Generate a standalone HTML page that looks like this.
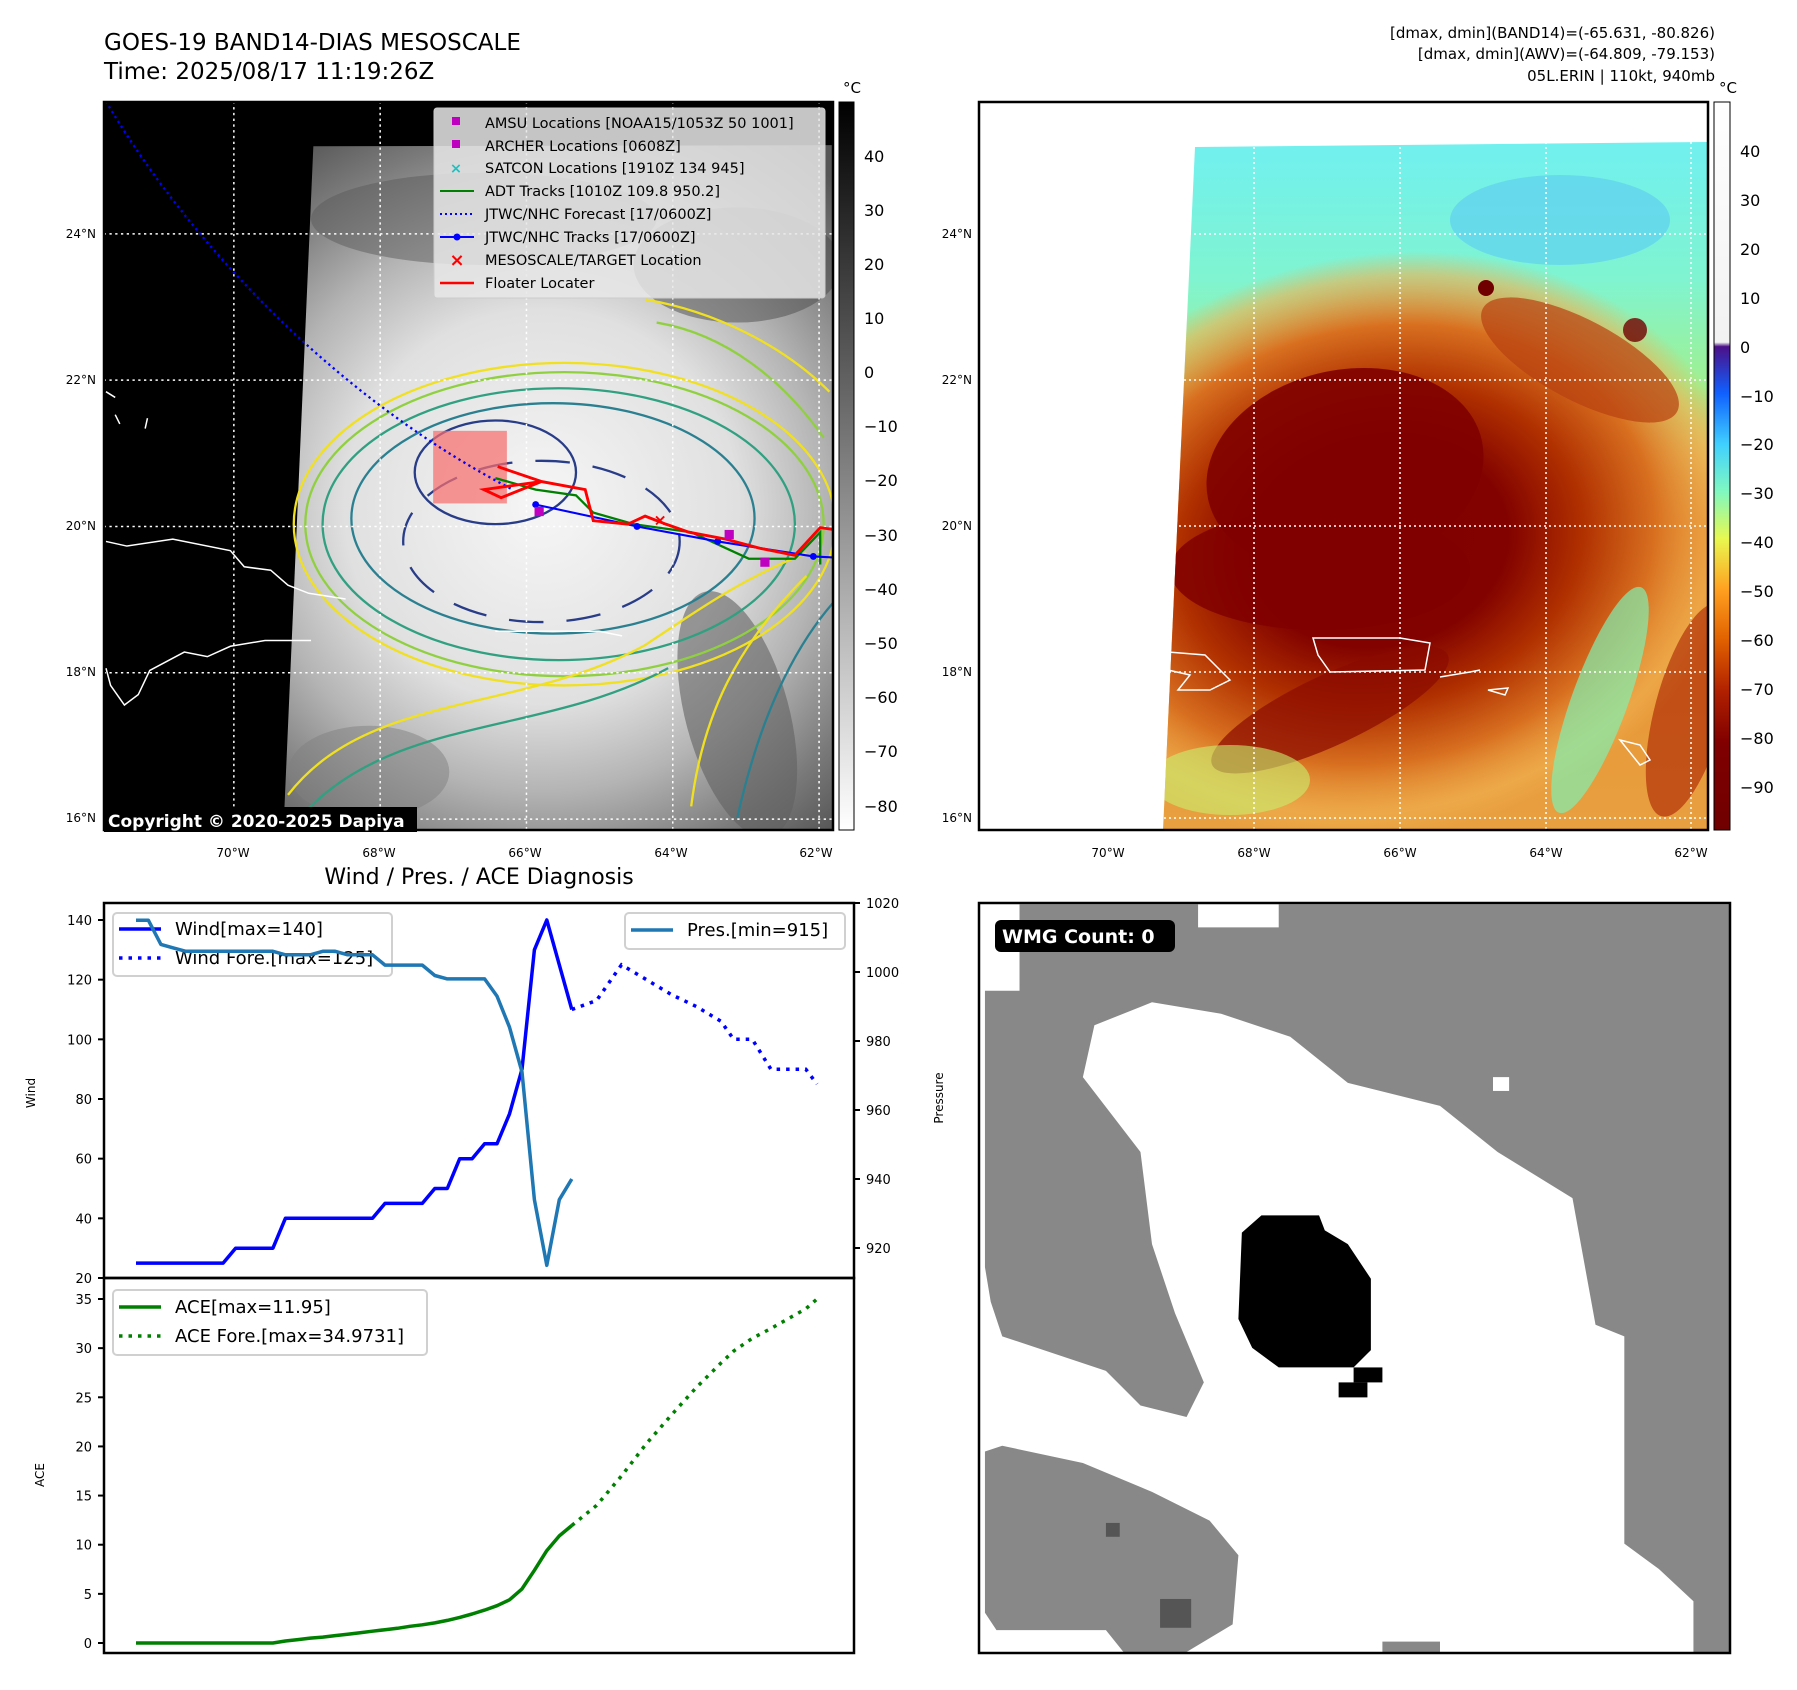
<!DOCTYPE html>
<html><head><meta charset="utf-8">
<style>
html,body{margin:0;padding:0;background:#fff;}
svg{display:block;font-family:"DejaVu Sans","Liberation Sans",sans-serif;}
</style></head>
<body>
<svg id="root" width="1797" height="1690" viewBox="0 0 1797 1690" xmlns="http://www.w3.org/2000/svg">
<defs>
  <clipPath id="clip1"><rect x="104" y="102" width="729" height="728"/></clipPath>
  <clipPath id="clipData2"><polygon points="1195,147 1708,142 1708,830 1163,830"/></clipPath>
  <clipPath id="clipW"><rect x="979" y="903" width="751" height="750"/></clipPath>
  <radialGradient id="ir1" cx="470" cy="440" r="380" gradientUnits="userSpaceOnUse">
    <stop offset="0" stop-color="#f6f6f6"/><stop offset="0.45" stop-color="#e0e0e0"/>
    <stop offset="0.65" stop-color="#b4b4b4"/><stop offset="0.85" stop-color="#7a7a7a"/><stop offset="1" stop-color="#555"/>
  </radialGradient>
  <linearGradient id="cb1" x1="0" y1="0" x2="0" y2="1">
    <stop offset="0" stop-color="#000"/><stop offset="1" stop-color="#fff"/>
  </linearGradient>
  <linearGradient id="cb2" x1="0" y1="0" x2="0" y2="1">
    <stop offset="0" stop-color="#ffffff"/><stop offset="0.33" stop-color="#f2f2f2"/>
    <stop offset="0.336" stop-color="#4b1088"/><stop offset="0.40" stop-color="#1060ff"/>
    <stop offset="0.47" stop-color="#40d0ff"/><stop offset="0.535" stop-color="#80f8c0"/>
    <stop offset="0.60" stop-color="#e8f850"/><stop offset="0.67" stop-color="#ffa020"/>
    <stop offset="0.74" stop-color="#e06000"/><stop offset="0.81" stop-color="#b02000"/>
    <stop offset="0.88" stop-color="#800000"/><stop offset="1" stop-color="#700000"/>
  </linearGradient>
  <linearGradient id="bg2" x1="0" y1="0" x2="0" y2="1">
    <stop offset="0" stop-color="#70f0f0"/><stop offset="0.2" stop-color="#80f4d0"/>
    <stop offset="0.35" stop-color="#a0f090"/><stop offset="0.45" stop-color="#e0c060"/>
    <stop offset="0.55" stop-color="#e89030"/><stop offset="1" stop-color="#e8a040"/>
  </linearGradient>
  <radialGradient id="storm2" cx="0.5" cy="0.5" r="0.5">
    <stop offset="0" stop-color="#800000"/><stop offset="0.35" stop-color="#820200"/>
    <stop offset="0.55" stop-color="#b03000"/><stop offset="0.75" stop-color="#d87020"/>
    <stop offset="0.92" stop-color="#f0b050" stop-opacity="0.6"/><stop offset="1" stop-color="#f0b050" stop-opacity="0"/>
  </radialGradient>
</defs>

<text x="104" y="50" font-size="23">GOES-19 BAND14-DIAS MESOSCALE</text>
<text x="104" y="79" font-size="23">Time: 2025/08/17 11:19:26Z</text>
<g font-size="15" text-anchor="end">
  <text x="1715" y="38">[dmax, dmin](BAND14)=(-65.631, -80.826)</text>
  <text x="1715" y="59">[dmax, dmin](AWV)=(-64.809, -79.153)</text>
  <text x="1715" y="81">05L.ERIN | 110kt, 940mb</text>
</g>

<!-- MAP 1 -->
<g>
  <rect x="104" y="102" width="729" height="728" fill="#000"/>
  <g clip-path="url(#clip1)">
    <g transform="scale(1.152)">
      <polygon points="272,127 726,126 726,722 246,722" fill="url(#ir1)"/>
      <ellipse cx="420" cy="190" rx="150" ry="40" fill="#5a5a5a" opacity="0.5"/>
      <ellipse cx="640" cy="230" rx="90" ry="50" fill="#4a4a4a" opacity="0.5"/>
      <ellipse cx="640" cy="620" rx="45" ry="110" fill="#606060" opacity="0.6" transform="rotate(-15 640 620)"/>
      <ellipse cx="320" cy="670" rx="70" ry="40" fill="#808080" opacity="0.5"/>
      <g fill="none" stroke-width="2">
        <ellipse cx="490" cy="455" rx="235" ry="140" stroke="#f0e020"/>
        <ellipse cx="490" cy="455" rx="225" ry="132" stroke="#90d040"/>
        <ellipse cx="485" cy="455" rx="205" ry="118" stroke="#30a080"/>
        <ellipse cx="480" cy="450" rx="175" ry="100" stroke="#2a8090"/>
        <ellipse cx="430" cy="410" rx="70" ry="45" stroke="#283c88"/>
        <ellipse cx="470" cy="470" rx="120" ry="70" stroke="#283c88" stroke-dasharray="30,20"/>
        <path d="M250,690 C320,600 450,620 560,560 C620,520 650,500 700,480" stroke="#f0e020"/>
        <path d="M260,710 C340,620 470,640 580,580" stroke="#30a080"/>
        <path d="M600,700 C610,620 640,560 700,500" stroke="#f0e020"/>
        <path d="M640,710 C660,620 690,560 726,520" stroke="#2a8090"/>
        <path d="M560,260 C620,270 680,300 720,340" stroke="#f0e020"/>
        <path d="M570,280 C630,290 680,330 715,380" stroke="#90d040"/>
      </g>
      <g fill="none" stroke="#fff" stroke-width="1.3">
        <path d="M92,470 L110,474 L150,468 L200,478 L212,492 L235,495 L250,508 L268,515 L300,520"/>
        <path d="M92,580 L96,595 L108,612 L120,603 L130,582 L160,566 L180,570 L200,561 L230,556 L270,556"/>
        <path d="M92,340 L100,345 M100,360 L104,368 M128,363 L126,372"/>
        <path d="M430,548 L520,548 L540,552"/>
      </g>
      <g stroke="#fff" stroke-width="1.3" stroke-dasharray="2,3">
        <line x1="203" y1="88" x2="203" y2="722"/><line x1="330" y1="88" x2="330" y2="722"/>
        <line x1="457" y1="88" x2="457" y2="722"/><line x1="584" y1="88" x2="584" y2="722"/>
        <line x1="711" y1="88" x2="711" y2="722"/>
        <line x1="90" y1="203" x2="726" y2="203"/><line x1="90" y1="330" x2="726" y2="330"/>
        <line x1="90" y1="457" x2="726" y2="457"/><line x1="90" y1="584" x2="726" y2="584"/>
        <line x1="90" y1="711" x2="726" y2="711"/>
      </g>
      <rect x="376" y="374" width="64" height="63" fill="rgba(246,110,110,0.72)"/>
      <path d="M92,88 C170,220 300,350 445,425" fill="none" stroke="#0000ff" stroke-width="2" stroke-dasharray="2,3"/>
      <path d="M430,415 L465,425 L500,430 L515,445 L550,455 L600,462 L650,485 L690,485 L712,462 L712,490" fill="none" stroke="#008000" stroke-width="2"/>
      <path d="M465,438 L553,457 L623,470 L706,483 L726,484" fill="none" stroke="#0000ff" stroke-width="1.8"/>
      <g fill="#0000ff"><circle cx="465" cy="438" r="3"/><circle cx="553" cy="457" r="3"/><circle cx="623" cy="470" r="3"/><circle cx="706" cy="483" r="3"/></g>
      <path d="M432,405 L470,418 L420,425 L435,432 L470,418 L508,425 L515,452 L545,455 L560,448 L578,455 L598,462 L630,468 L660,476 L690,482 L712,458 L726,460" fill="none" stroke="#ff0000" stroke-width="2.5"/>
      <g fill="#c000c0"><rect x="464" y="440" width="8" height="8"/><rect x="629" y="460" width="8" height="8"/><rect x="660" y="484" width="8" height="8"/></g>
      <text x="573" y="456" font-size="14" fill="#f00" text-anchor="middle" font-weight="bold">×</text>
    </g>
  </g>
  <rect x="104" y="102" width="729" height="728" fill="none" stroke="#000" stroke-width="2.5"/>
  <g>
    <rect x="434" y="108" width="391" height="190" rx="3" fill="#e8e8e8" fill-opacity="0.85" stroke="#ccc"/>
    <g font-size="14.5">
      <rect x="452" y="117" width="8" height="8" fill="#c000c0"/><text x="485" y="128">AMSU Locations [NOAA15/1053Z 50 1001]</text>
      <rect x="452" y="140" width="8" height="8" fill="#c000c0"/><text x="485" y="151">ARCHER Locations [0608Z]</text>
      <text x="456" y="173" fill="#20c0c0" text-anchor="middle" font-weight="bold">×</text><text x="485" y="173">SATCON Locations [1910Z 134 945]</text>
      <line x1="440" y1="191" x2="474" y2="191" stroke="#008000" stroke-width="2"/><text x="485" y="196">ADT Tracks [1010Z 109.8 950.2]</text>
      <line x1="440" y1="214" x2="474" y2="214" stroke="#0000ff" stroke-width="2" stroke-dasharray="2,3"/><text x="485" y="219">JTWC/NHC Forecast [17/0600Z]</text>
      <line x1="440" y1="237" x2="474" y2="237" stroke="#0000ff" stroke-width="2"/><circle cx="457" cy="237" r="3.5" fill="#0000ff"/><text x="485" y="242">JTWC/NHC Tracks [17/0600Z]</text>
      <text x="457" y="266" fill="#f00" text-anchor="middle" font-weight="bold" font-size="18">×</text><text x="485" y="265">MESOSCALE/TARGET Location</text>
      <line x1="440" y1="283" x2="474" y2="283" stroke="#ff0000" stroke-width="2.5"/><text x="485" y="288">Floater Locater</text>
    </g>
  </g>
  <rect x="104" y="807" width="313" height="25" fill="#000"/>
  <text x="108" y="827" font-size="17" font-weight="bold" fill="#fff">Copyright © 2020-2025 Dapiya</text>
  <g font-size="12" text-anchor="end">
    <text x="96" y="238">24°N</text><text x="96" y="384">22°N</text><text x="96" y="530">20°N</text><text x="96" y="676">18°N</text><text x="96" y="822">16°N</text>
  </g>
  <g font-size="12" text-anchor="middle">
    <text x="233" y="857">70°W</text><text x="379" y="857">68°W</text><text x="525" y="857">66°W</text><text x="671" y="857">64°W</text><text x="816" y="857">62°W</text>
  </g>
  <rect x="839" y="102" width="15" height="728" fill="url(#cb1)" stroke="#000" stroke-width="1"/>
  <text x="852" y="93" font-size="15" text-anchor="middle">°C</text>
  <g font-size="16">
    <text x="864" y="162">40</text><text x="864" y="216">30</text><text x="864" y="270">20</text><text x="864" y="324">10</text>
    <text x="864" y="378">0</text><text x="864" y="432">−10</text><text x="864" y="486">−20</text><text x="864" y="541">−30</text>
    <text x="864" y="595">−40</text><text x="864" y="649">−50</text><text x="864" y="703">−60</text><text x="864" y="757">−70</text><text x="864" y="812">−80</text>
  </g>
</g>

<!-- MAP 2 -->
<g>
  <rect x="979" y="102" width="729" height="728" fill="#fff"/>
  <g clip-path="url(#clipData2)">
    <rect x="1150" y="140" width="560" height="700" fill="url(#bg2)"/>
    <ellipse cx="1560" cy="220" rx="110" ry="45" fill="#60d0f0" opacity="0.7"/>
    <ellipse cx="1380" cy="545" rx="370" ry="290" fill="url(#storm2)" transform="rotate(-12 1380 545)"/>
    <ellipse cx="1580" cy="360" rx="110" ry="40" fill="#b84010" opacity="0.7" transform="rotate(28 1580 360)"/>
    <ellipse cx="1345" cy="470" rx="140" ry="100" fill="#800000" opacity="0.9" transform="rotate(-12 1345 470)"/>
    <ellipse cx="1320" cy="570" rx="150" ry="60" fill="#800000" opacity="0.85"/>
    <ellipse cx="1330" cy="710" rx="130" ry="35" fill="#8a0a00" opacity="0.7" transform="rotate(-25 1330 710)"/>
    <ellipse cx="1600" cy="700" rx="28" ry="120" fill="#80f0b0" opacity="0.7" transform="rotate(20 1600 700)"/>
    <ellipse cx="1230" cy="780" rx="80" ry="35" fill="#c8f070" opacity="0.6"/>
    <ellipse cx="1690" cy="710" rx="35" ry="110" fill="#a82000" opacity="0.6" transform="rotate(15 1690 710)"/>
    <circle cx="1486" cy="288" r="8" fill="#700000"/><circle cx="1635" cy="330" r="12" fill="#700000" opacity="0.8"/>
  </g>
  <g fill="none" stroke="#fff" stroke-width="1.5">
    <path d="M1313,638 L1400,638 L1430,643 L1425,670 L1330,672 L1318,655 Z"/>
    <path d="M1168,652 L1205,655 L1230,680 L1210,690 L1178,690 L1190,675 L1168,670"/>
    <path d="M1440,677 L1470,672 L1480,670"/><path d="M1488,690 L1505,695 L1508,688 Z"/>
    <path d="M1620,740 L1640,745 L1650,760 L1640,765 Z"/>
  </g>
  <g stroke="#fff" stroke-width="1.5" stroke-dasharray="2,3">
    <line x1="1108" y1="102" x2="1108" y2="830"/><line x1="1254" y1="102" x2="1254" y2="830"/>
    <line x1="1400" y1="102" x2="1400" y2="830"/><line x1="1546" y1="102" x2="1546" y2="830"/>
    <line x1="1691" y1="102" x2="1691" y2="830"/>
    <line x1="979" y1="234" x2="1708" y2="234"/><line x1="979" y1="380" x2="1708" y2="380"/>
    <line x1="979" y1="526" x2="1708" y2="526"/><line x1="979" y1="672" x2="1708" y2="672"/>
    <line x1="979" y1="818" x2="1708" y2="818"/>
  </g>
  <rect x="979" y="102" width="729" height="728" fill="none" stroke="#000" stroke-width="2.5"/>
  <g font-size="12" text-anchor="end">
    <text x="972" y="238">24°N</text><text x="972" y="384">22°N</text><text x="972" y="530">20°N</text><text x="972" y="676">18°N</text><text x="972" y="822">16°N</text>
  </g>
  <g font-size="12" text-anchor="middle">
    <text x="1108" y="857">70°W</text><text x="1254" y="857">68°W</text><text x="1400" y="857">66°W</text><text x="1546" y="857">64°W</text><text x="1691" y="857">62°W</text>
  </g>
  <rect x="1714" y="102" width="16" height="728" fill="url(#cb2)" stroke="#000" stroke-width="1"/>
  <text x="1728" y="93" font-size="15" text-anchor="middle">°C</text>
  <g font-size="16">
    <text x="1740" y="157">40</text><text x="1740" y="206">30</text><text x="1740" y="255">20</text><text x="1740" y="304">10</text>
    <text x="1740" y="353">0</text><text x="1740" y="402">−10</text><text x="1740" y="450">−20</text><text x="1740" y="499">−30</text>
    <text x="1740" y="548">−40</text><text x="1740" y="597">−50</text><text x="1740" y="646">−60</text><text x="1740" y="695">−70</text>
    <text x="1740" y="744">−80</text><text x="1740" y="793">−90</text>
  </g>
</g>

<!-- WMG panel -->
<g>
  <rect x="979" y="903" width="751" height="750" fill="#fff"/>
  <g clip-path="url(#clipW)">
    <g transform="scale(1.152)" fill="#888">
      <polygon points="885,785 1040,785 1040,805 1110,805 1110,785 1515,785 1515,1445 1470,1445 1470,1390 1440,1362 1410,1340 1410,1160 1385,1150 1365,1040 1300,1000 1250,960 1170,940 1120,900 1060,880 1000,870 950,890 940,935 990,1000 1000,1080 1020,1140 1045,1200 1030,1230 990,1220 960,1190 870,1160 860,1130 855,1100 855,860 885,860"/>
      <polygon points="855,1260 870,1255 940,1270 1000,1295 1050,1320 1075,1350 1070,1410 1020,1440 980,1440 960,1415 865,1415 855,1400"/>
      <rect x="1200" y="1425" width="50" height="20"/>
      <rect x="1296" y="935" width="14" height="12" fill="#fff"/>
      <rect x="960" y="1322" width="12" height="12" fill="#555"/>
      <rect x="1007" y="1388" width="27" height="25" fill="#555"/>
      <polygon fill="#000" points="1095,1055 1145,1055 1150,1068 1170,1080 1190,1110 1190,1172 1175,1187 1110,1187 1087,1170 1075,1145 1078,1070"/>
      <rect x="1175" y="1187" width="25" height="13" fill="#000"/>
      <rect x="1162" y="1200" width="25" height="13" fill="#000"/>
    </g>
  </g>
  <rect x="979" y="903" width="751" height="750" fill="none" stroke="#000" stroke-width="2.5"/>
  <rect x="995" y="920" width="180" height="32" rx="6" fill="#000"/>
  <text x="1002" y="943" font-size="19" font-weight="bold" fill="#fff">WMG Count: 0</text>
</g>

<text x="479" y="884" font-size="22" text-anchor="middle">Wind / Pres. / ACE Diagnosis</text>
<g id="chart"></g>
</svg>

<script>
const windVals = [25,25,25,25,25,25,25,25,30,30,30,30,40,40,40,40,40,40,40,40,45,45,45,45,50,50,60,60,65,65,75,90,130,140,125,110];
const presVals = [1015,1015,1008,1007,1006,1006,1006,1006,1006,1006,1006,1006,1005,1005,1005,1006,1006,1005,1005,1005,1002,1002,1002,1002,999,998,998,998,998,993,984,971,934,915,934,940];
const aceVals = [0,0,0,0,0,0,0,0,0,0,0,0,0.2,0.35,0.5,0.6,0.75,0.9,1.05,1.2,1.35,1.5,1.7,1.85,2.05,2.3,2.6,2.95,3.35,3.8,4.4,5.5,7.4,9.4,10.9,11.95];
const foreIdx = [35,37,39,41,43,45,47,48,49.5,51,53.8,54.7];
const windFore = [110,113,125,120,115,111,106,100,100,90,90,85];
const aceFore = [11.95,14,17,20.3,23.2,26,28.5,29.7,31,32,34,35];
const windTicks = [20,40,60,80,100,120,140];
const presTicks = [920,940,960,980,1000,1020];
const aceTicks = [0,5,10,15,20,25,30,35];

const NS = 'http://www.w3.org/2000/svg';
const chart = document.getElementById('chart');
const X0 = 104, X1 = 854, YT = 903, YM = 1278, YB = 1653;
function xC(i){ return 136 + i * 12.45; }
function yW(v){ return YM - (v - 20) * (YM - 920) / 120; }
function yP(p){ return YT + (1020 - p) * 3.45; }
function yA(a){ return 1643 - a * (1643 - 1299) / 35; }
function mk(tag, attrs, parent){
  const e = document.createElementNS(NS, tag);
  for (const k in attrs) e.setAttribute(k, attrs[k]);
  (parent || chart).appendChild(e);
  return e;
}
function pts(xs, ys){ return xs.map((x,i)=>x.toFixed(1)+','+ys[i].toFixed(1)).join(' '); }

let f1 = mk('rect',{x:X0,y:YT,width:X1-X0,height:YM-YT,fill:'none',stroke:'#000','stroke-width':2.5});


let f2 = mk('rect',{x:X0,y:YM,width:X1-X0,height:YB-YM,fill:'none',stroke:'#000','stroke-width':2.5});



windTicks.forEach(v=>{
  const y = yW(v);
  const t = mk('line',{x1:X0-6,x2:X0,y1:y,y2:y,stroke:'#000','stroke-width':2});
  
  
  const l = mk('text',{x:X0-12,y:y+5,'font-size':13,'text-anchor':'end'});
  l.textContent = v;
  
  
});
presTicks.forEach(v=>{
  const y = yP(v);
  const t = mk('line',{x1:X1,x2:X1+6,y1:y,y2:y,stroke:'#000','stroke-width':2});
  
  
  const l = mk('text',{x:X1+12,y:y+5,'font-size':13});
  l.textContent = v;
  
  
});
aceTicks.forEach(v=>{
  const y = yA(v);
  const t = mk('line',{x1:X0-6,x2:X0,y1:y,y2:y,stroke:'#000','stroke-width':2});
  
  
  const l = mk('text',{x:X0-12,y:y+5,'font-size':13,'text-anchor':'end'});
  l.textContent = v;
  
  
});
let t1 = mk('text',{x:0,y:0,'font-size':12,'text-anchor':'middle',transform:'translate(35,1093) rotate(-90)'});
t1.textContent='Wind';


let t2 = mk('text',{x:0,y:0,'font-size':12,'text-anchor':'middle',transform:'translate(943,1098) rotate(-90)'});
t2.textContent='Pressure';


let t3 = mk('text',{x:0,y:0,'font-size':12,'text-anchor':'middle',transform:'translate(44,1475) rotate(-90)'});
t3.textContent='ACE';



const idx = windVals.map((_,i)=>i);
let wl = mk('polyline',{points:pts(idx.map(xC), windVals.map(yW)),fill:'none',stroke:'#0000ff','stroke-width':3.5,'stroke-linejoin':'round'});


let wf = mk('polyline',{points:pts(foreIdx.map(xC), windFore.map(yW)),fill:'none',stroke:'#0000ff','stroke-width':3.5,'stroke-dasharray':'3.5,6'});



let lg1 = mk('rect',{x:113,y:913,width:279,height:63,rx:4,fill:'#fff','fill-opacity':0.8,stroke:'#d0d0d0','stroke-width':2});


mk('line',{x1:119,x2:161,y1:929,y2:929,stroke:'#0000ff','stroke-width':3.5});
mk('line',{x1:119,x2:161,y1:958,y2:958,stroke:'#0000ff','stroke-width':3.5,'stroke-dasharray':'3.5,6'});
let lt1 = mk('text',{x:175,y:935,'font-size':18}); lt1.textContent='Wind[max=140]';
let lt2 = mk('text',{x:175,y:964,'font-size':18}); lt2.textContent='Wind Fore.[max=125]';

let pl = mk('polyline',{points:pts(idx.map(xC), presVals.map(yP)),fill:'none',stroke:'#1f77b4','stroke-width':3.5,'stroke-linejoin':'round'});


let lg2 = mk('rect',{x:625,y:913,width:220,height:36,rx:4,fill:'#fff','fill-opacity':0.8,stroke:'#d0d0d0','stroke-width':2});


mk('line',{x1:631,x2:673,y1:930,y2:930,stroke:'#1f77b4','stroke-width':3.5});
let lt3 = mk('text',{x:687,y:936,'font-size':18}); lt3.textContent='Pres.[min=915]';

let al = mk('polyline',{points:pts(idx.map(xC), aceVals.map(yA)),fill:'none',stroke:'#008000','stroke-width':3.5,'stroke-linejoin':'round'});


let af = mk('polyline',{points:pts(foreIdx.map(xC), aceFore.map(yA)),fill:'none',stroke:'#008000','stroke-width':3.5,'stroke-dasharray':'3.5,6'});


let lg3 = mk('rect',{x:113,y:1290,width:314,height:65,rx:4,fill:'#fff','fill-opacity':0.8,stroke:'#d0d0d0','stroke-width':2});


mk('line',{x1:119,x2:161,y1:1307,y2:1307,stroke:'#008000','stroke-width':3.5});
mk('line',{x1:119,x2:161,y1:1336,y2:1336,stroke:'#008000','stroke-width':3.5,'stroke-dasharray':'3.5,6'});
let lt4 = mk('text',{x:175,y:1313,'font-size':18}); lt4.textContent='ACE[max=11.95]';
let lt5 = mk('text',{x:175,y:1342,'font-size':18}); lt5.textContent='ACE Fore.[max=34.9731]';
</script>
</body></html>
